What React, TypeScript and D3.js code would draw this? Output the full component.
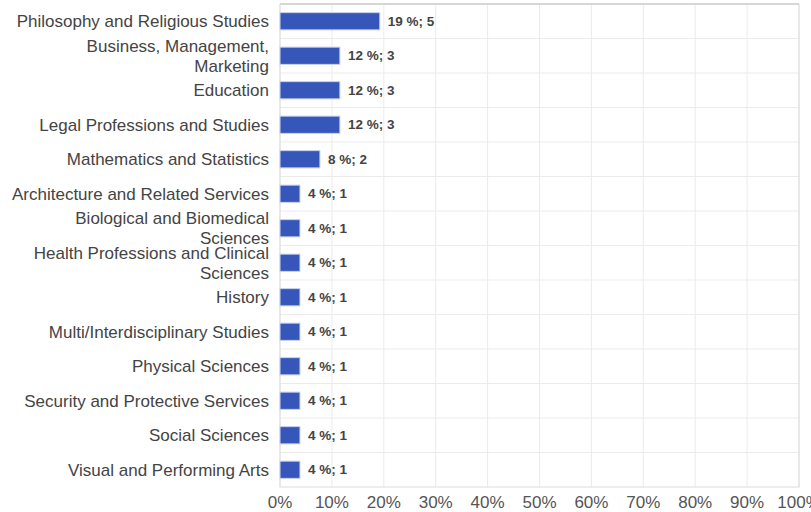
import React from 'react';
import * as d3 from 'd3';

// Field of study answers (count of respondents)
const categories: string[][] = [
  ['Philosophy and Religious Studies'],
  ['Business, Management,', 'Marketing'],
  ['Education'],
  ['Legal Professions and Studies'],
  ['Mathematics and Statistics'],
  ['Architecture and Related Services'],
  ['Biological and Biomedical', 'Sciences'],
  ['Health Professions and Clinical', 'Sciences'],
  ['History'],
  ['Multi/Interdisciplinary Studies'],
  ['Physical Sciences'],
  ['Security and Protective Services'],
  ['Social Sciences'],
  ['Visual and Performing Arts'],
];
const counts = [5, 3, 3, 3, 2, 1, 1, 1, 1, 1, 1, 1, 1, 1];
// total respondents the percentages are based on
const respondents = 26;
const ticks = [0, 10, 20, 30, 40, 50, 60, 70, 80, 90, 100];

const W = 811;
const H = 512;
const BAR_COLOR = '#3657b9';
const TEXT_COLOR = '#444';
const GRID_COLOR = '#ebebeb';

export default function App() {
  const margin = { top: 4, right: 12, bottom: 25, left: 280 };

  const x = d3.scaleLinear().domain([0, 100]).range([margin.left, W - margin.right]);
  const y = d3
    .scaleBand<number>()
    .domain(d3.range(categories.length))
    .range([margin.top, H - margin.bottom])
    .paddingInner(0.5)
    .paddingOuter(0.25);

  const step = y.step();
  const top = margin.top;
  const bottom = H - margin.bottom;

  return (
    <svg
      width={W}
      height={H}
      style={{ position: 'absolute', left: 0, top: 0, background: '#fff' }}
      fontFamily="'Liberation Sans', Arial, sans-serif"
    >
      {/* vertical grid */}
      {ticks.map(t => (
        <line key={'v' + t} x1={x(t)} x2={x(t)} y1={top} y2={bottom} stroke={GRID_COLOR} strokeWidth={1} />
      ))}
      {/* horizontal separators */}
      {d3.range(1, categories.length).map(i => (
        <line
          key={'h' + i}
          x1={x(0)}
          x2={x(100)}
          y1={top + i * step}
          y2={top + i * step}
          stroke={GRID_COLOR}
          strokeWidth={1}
        />
      ))}
      {/* border */}
      <rect x={x(0)} y={top} width={x(100) - x(0)} height={bottom - top} fill="none" stroke="#dcdcdc" strokeWidth={1} />
      <line x1={x(0)} x2={x(100)} y1={top} y2={top} stroke="#d6d6d6" strokeWidth={2} />

      {/* bars */}
      {counts.map((c, i) => {
        const pct = (c / respondents) * 100;
        const by = y(i)!;
        return (
          <g key={'b' + i}>
            <rect
              x={x(0)}
              y={by}
              width={x(pct) - x(0)}
              height={y.bandwidth()}
              fill={BAR_COLOR}
              stroke="#c9d3ef"
              strokeWidth={1}
            />
            <text
              x={x(pct) + 8}
              y={by + y.bandwidth() / 2}
              dy="0.35em"
              fontSize={13.5}
              fontWeight="bold"
              fill={TEXT_COLOR}
            >
              {`${Math.round(pct)} %; ${c}`}
            </text>
          </g>
        );
      })}

      {/* category labels */}
      {categories.map((lines, i) => {
        const cy = y(i)! + y.bandwidth() / 2;
        const lh = 20;
        const start = cy - ((lines.length - 1) * lh) / 2;
        return (
          <text key={'c' + i} textAnchor="end" fontSize={17} fill={TEXT_COLOR}>
            {lines.map((l, j) => (
              <tspan key={j} x={x(0) - 11} y={start + j * lh} dy="0.35em">
                {l}
              </tspan>
            ))}
          </text>
        );
      })}

      {/* x axis labels */}
      {ticks.map(t => (
        <text key={'t' + t} x={x(t)} y={bottom + 15} dy="0.35em" textAnchor="middle" fontSize={17} fill="#555">
          {t}%
        </text>
      ))}
    </svg>
  );
}
